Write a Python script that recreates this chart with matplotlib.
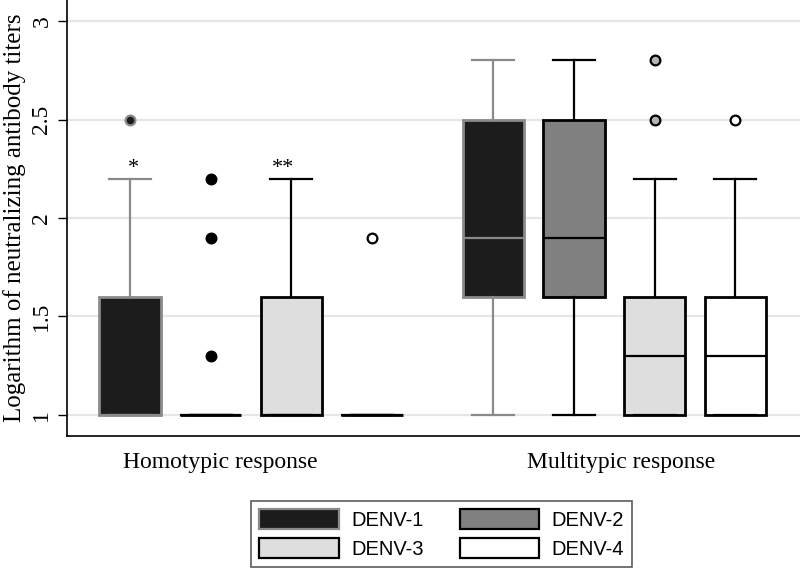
import matplotlib
matplotlib.use("Agg")
import matplotlib.pyplot as plt
from matplotlib.patches import Patch

# ---- data ----
groups = ["Homotypic response", "Multitypic response"]
serotypes = ["DENV-1", "DENV-2", "DENV-3", "DENV-4"]
q1 = [1.0, 1.0, 1.0, 1.0, 1.6, 1.6, 1.0, 1.0]
med = [1.0, 1.0, 1.0, 1.0, 1.9, 1.9, 1.3, 1.3]
q3 = [1.6, 1.0, 1.6, 1.0, 2.5, 2.5, 1.6, 1.6]
whislo = [1.0, 1.0, 1.0, 1.0, 1.0, 1.0, 1.0, 1.0]
whishi = [2.2, 1.0, 2.2, 1.0, 2.8, 2.8, 2.2, 2.2]
fliers = [[2.5], [1.3, 1.9, 2.2], [], [1.9], [], [], [2.5, 2.8], [2.5]]
annotations = ["*", "", "**", "", "", "", "", ""]
annot_y = 2.25
yticks = [1, 1.5, 2, 2.5, 3]
ytick_labels = ["1", "1.5", "2", "2.5", "3"]

# ---- styles ----
fills = ["#1c1c1c", "#808080", "#dedede", "#ffffff"]
edges = ["#8a8a8a", "#000000", "#000000", "#000000"]
flier_face = {0: "#1c1c1c", 1: "#000000", 3: "#ffffff", 6: "#b4b4b4", 7: "#ffffff"}
flier_edge = {0: "#8a8a8a", 1: "#000000", 3: "#000000", 6: "#000000", 7: "#000000"}

positions = [0, 1, 2, 3, 4.5, 5.5, 6.5, 7.5]
annot_dx = [0.04, 0, -0.10, 0, 0, 0, 0, 0]

fig = plt.figure(figsize=(8, 5.69), dpi=100)
ax = fig.add_axes([67 / 800, 1 - 436 / 569, 1 - 67 / 800, 436 / 569])

for ylev in yticks:
    ax.axhline(ylev, color="#e6e6e6", lw=1.6, zorder=0)

for i in range(len(positions)):
    s = i % 4
    stats = [dict(q1=q1[i], med=med[i], q3=q3[i], whislo=whislo[i],
                  whishi=whishi[i], fliers=fliers[i])]
    ax.bxp(stats, positions=[positions[i]], widths=0.76, capwidths=0.52,
           patch_artist=True, showfliers=True, manage_ticks=False,
           boxprops=dict(facecolor=fills[s], edgecolor=edges[s], linewidth=2.0),
           whiskerprops=dict(color=edges[s], linewidth=1.6),
           capprops=dict(color=edges[s], linewidth=1.6),
           medianprops=dict(color=edges[s], linewidth=1.6),
           flierprops=dict(marker="o", markersize=7,
                           markerfacecolor=flier_face.get(i, "#000000"),
                           markeredgecolor=flier_edge.get(i, "#000000"),
                           markeredgewidth=1.6, linestyle="none"))
    if annotations[i]:
        ax.text(positions[i] + annot_dx[i], annot_y, annotations[i],
                ha="center", va="center", fontsize=16, family="Liberation Serif")

ax.set_xlim(-0.78, 8.30)
ax.set_ylim(0.893, 3.107)
ax.set_yticks(yticks)
ax.set_yticklabels(ytick_labels, rotation=90, va="center",
                   family="Liberation Serif", fontsize=17)
ax.tick_params(axis="y", length=6.5, width=1.0, pad=4)
ax.set_xticks([])
ax.set_ylabel("Logarithm of neutralizing antibody titers",
              family="Liberation Serif", fontsize=18, labelpad=4)
for sp in ["top", "right"]:
    ax.spines[sp].set_visible(False)
ax.spines["left"].set_linewidth(1.2)
ax.spines["bottom"].set_linewidth(1.2)

group_x = [1.12, 6.08]
for gx, g in zip(group_x, groups):
    ax.text(gx, 0.893 - 0.135, g, ha="center", va="center",
            family="Liberation Serif", fontsize=17, transform=ax.transData,
            clip_on=False)

handles = [Patch(facecolor=fills[k], edgecolor=edges[k], linewidth=1.6)
           for k in range(4)]
order = [0, 2, 1, 3]
leg = fig.legend([handles[k] for k in order], [serotypes[k] for k in order],
                 ncol=2, loc="lower center",
                 bbox_to_anchor=(441.5 / 800, 2 / 569),
                 prop=dict(family="Liberation Sans", size=14.5),
                 handlelength=3.95, handleheight=1.15, handletextpad=0.6,
                 columnspacing=1.8, labelspacing=0.4, borderpad=0.4,
                 borderaxespad=0,
                 fancybox=False, frameon=True)
leg.get_frame().set_edgecolor("#333333")
leg.get_frame().set_linewidth(1.2)

fig.savefig("out.png", dpi=100)
